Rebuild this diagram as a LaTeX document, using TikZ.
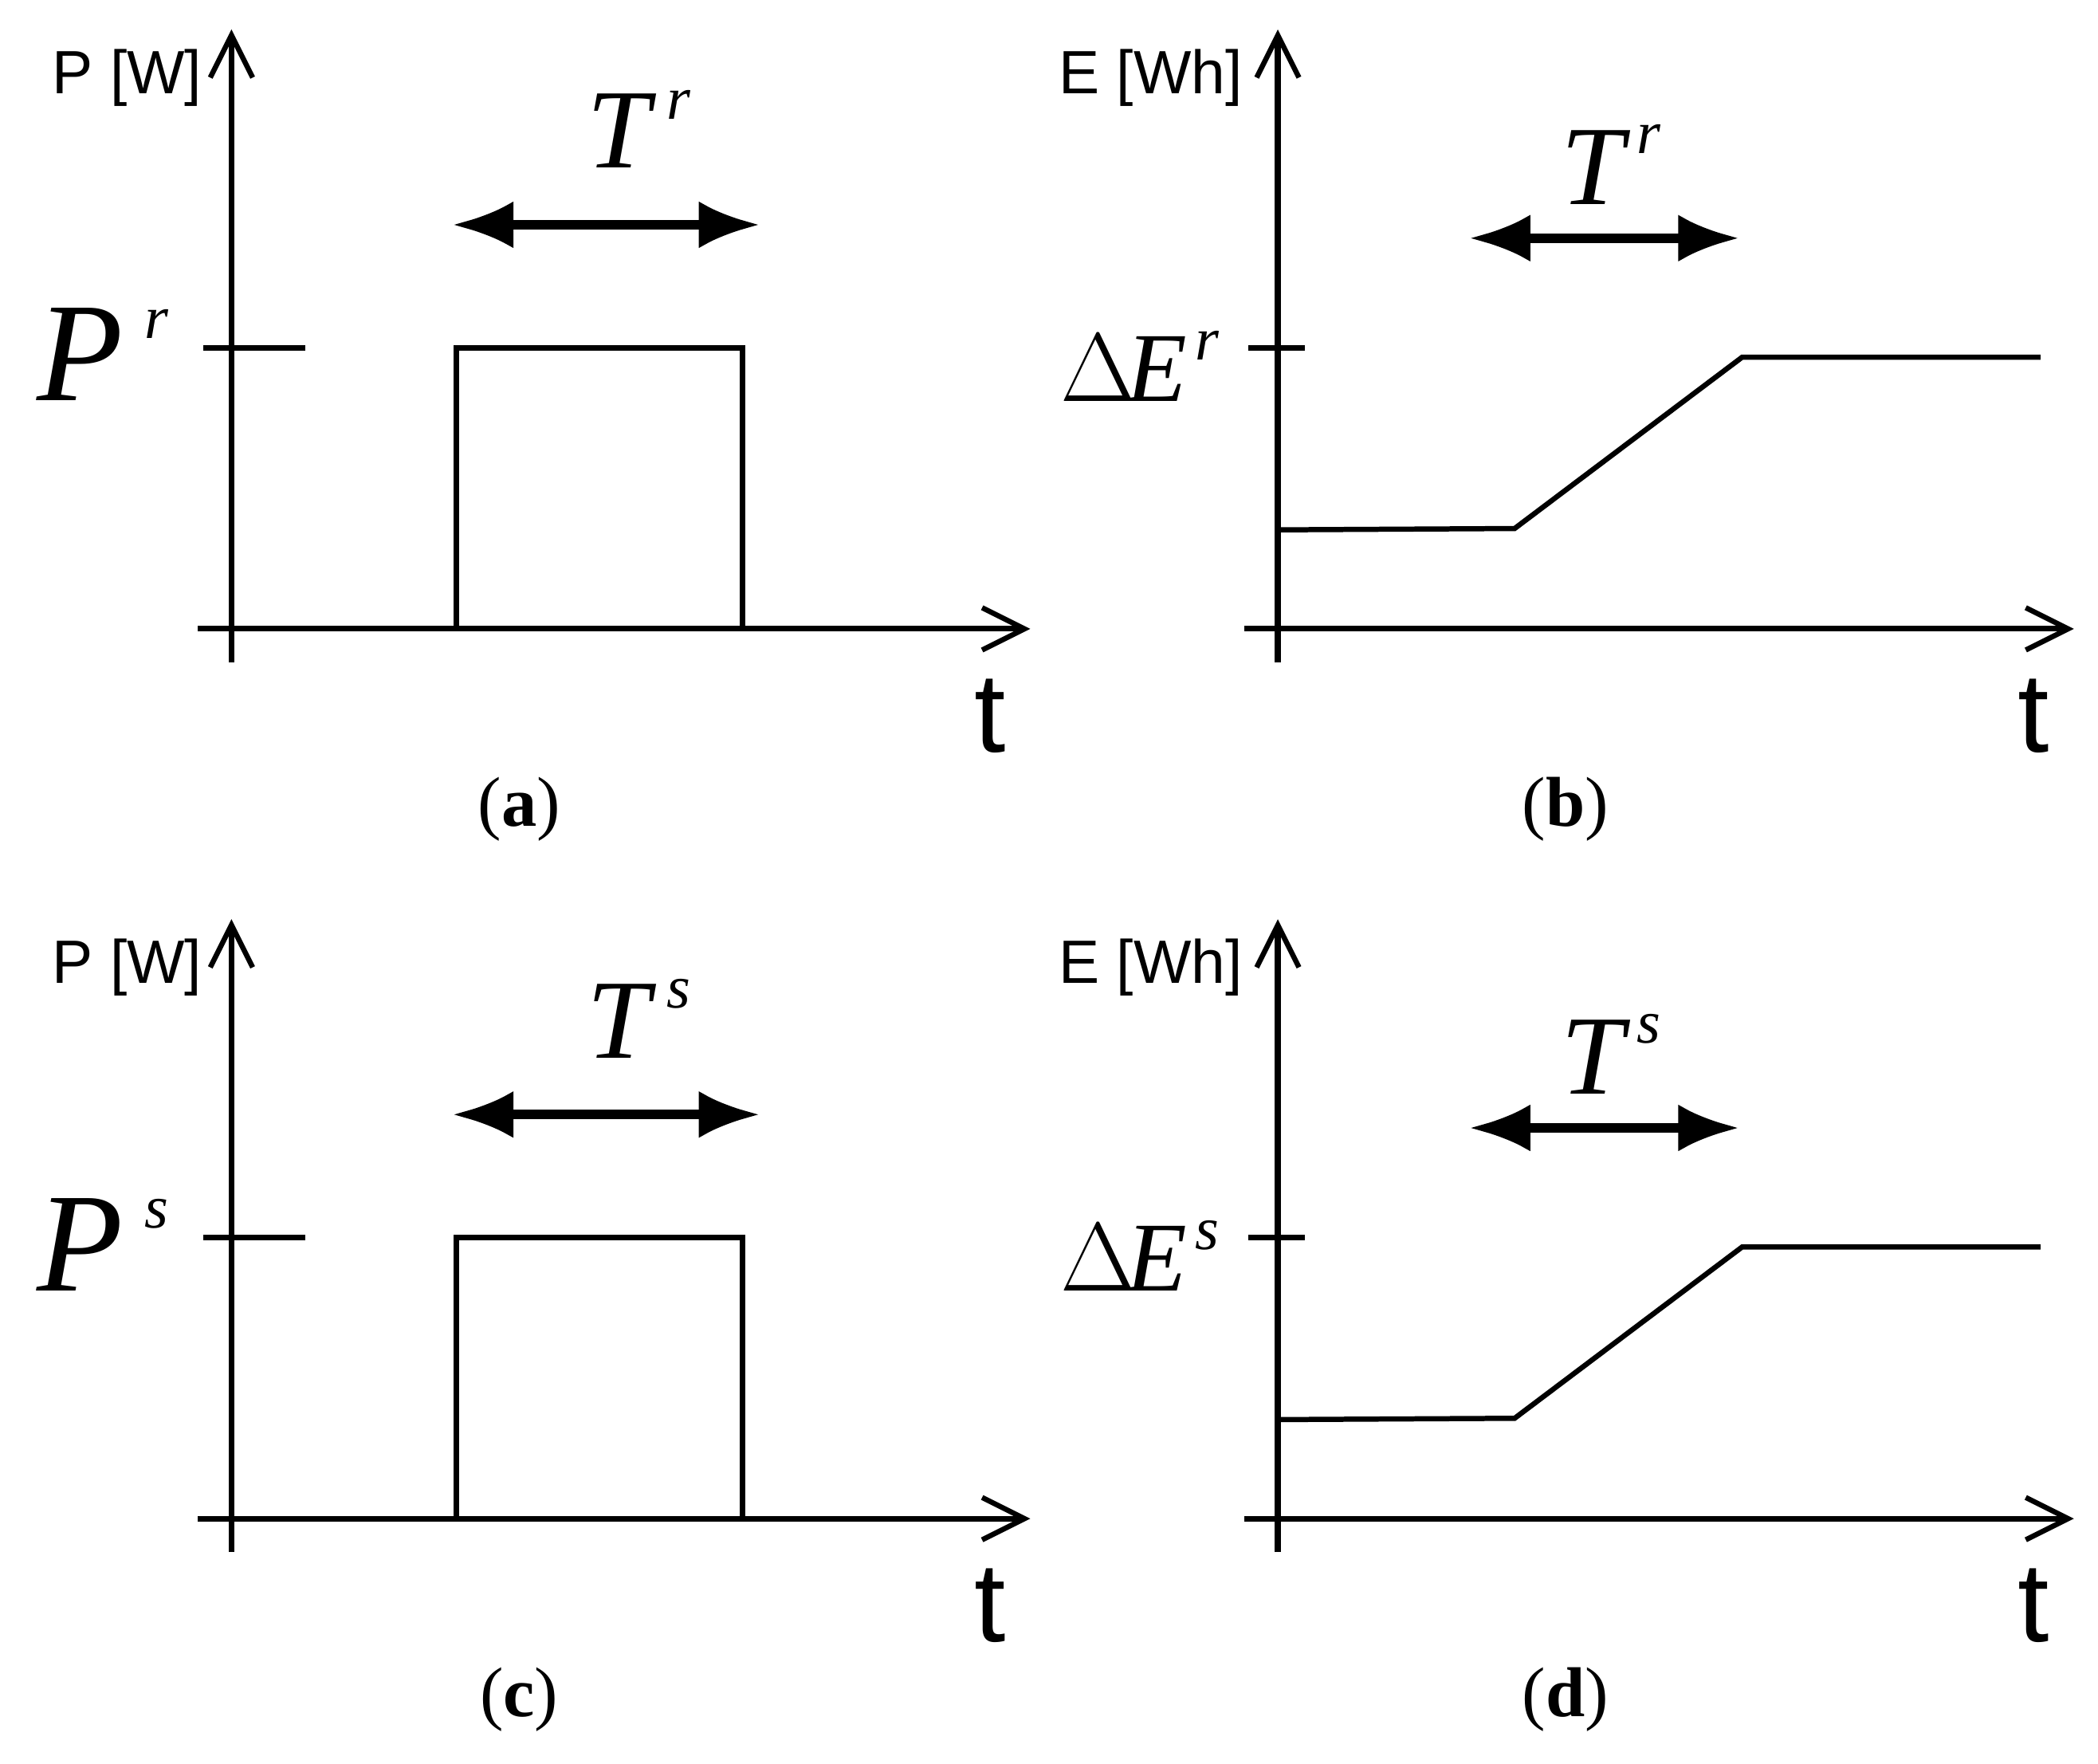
\documentclass[tikz,border=0pt]{standalone}
\usepackage{fontspec}
\newfontfamily\lsans{Liberation Sans}
\newfontfamily\lserif{Liberation Serif}
\usetikzlibrary{arrows.meta}
\begin{document}
\begin{tikzpicture}[x=0.01cm,y=-0.01cm,
 ax/.style={line width=1.2pt,-{Straight Barb[length=9pt,width=9pt,line width=1.1pt]}},
 ln/.style={line width=1.1pt},
 dbl/.style={line width=2pt,{Latex[length=13pt,width=10pt]}-{Latex[length=13pt,width=10pt]}},
 big/.style={font=\lserif\itshape\fontsize{30}{30}\selectfont},
 mid/.style={font=\lserif\itshape\fontsize{24}{24}\selectfont},
 sup/.style={font=\lserif\itshape\fontsize{13}{13}\selectfont},
 ylab/.style={font=\lsans\fontsize{13}{13}\selectfont},
 tlab/.style={font=\lsans\fontsize{24}{24}\selectfont},
 captxt/.style={font=\lserif\fontsize{15}{15}\selectfont}]
\useasboundingbox (0,0) rectangle (1568,1318);
\foreach \dy/\s/\cl/\cr in {0/r/a/b,665/s/c/d}{
\begin{scope}[yshift=-\dy*0.01cm]
% left panel
\draw[ax] (173,495) -- (173,22);
\draw[ax] (148,470) -- (770,470);
\draw[ln] (152,260) -- (228,260);
\draw[ln] (341,470) -- (341,260) -- (555,260) -- (555,470);
\draw[dbl] (338,168) -- (568,168);
\node[mid] at (462,98) {T};
\node[sup] at (507,78) {\s};
\node[big] at (60,265) {P};
\node[sup] at (117,242) {\s};
\node[ylab] at (95,58) {P [W]};
\node[tlab] at (740,535) {t};
\node[captxt] at (388,605) {(\textbf{\cl})};
% right panel
\draw[ax] (955,495) -- (955,22);
\draw[ax] (930,470) -- (1550,470);
\draw[ln] (933,260) -- (975,260);
\draw[ln] (955,396) -- (1132,395) -- (1302,267) -- (1525,267);
\draw[dbl] (1098,178) -- (1300,178);
\node[mid] at (1190,125) {T};
\node[sup] at (1232,104) {\s};
\node[mid, font=\lserif\fontsize{21}{21}\selectfont] at (840,275) {$\Delta$\kern-2pt\textit{E}};
\node[sup] at (902,258) {\s};
\node[ylab] at (860,58) {E [Wh]};
\node[tlab] at (1520,535) {t};
\node[captxt] at (1170,605) {(\textbf{\cr})};
\end{scope}}
\end{tikzpicture}
\end{document}
